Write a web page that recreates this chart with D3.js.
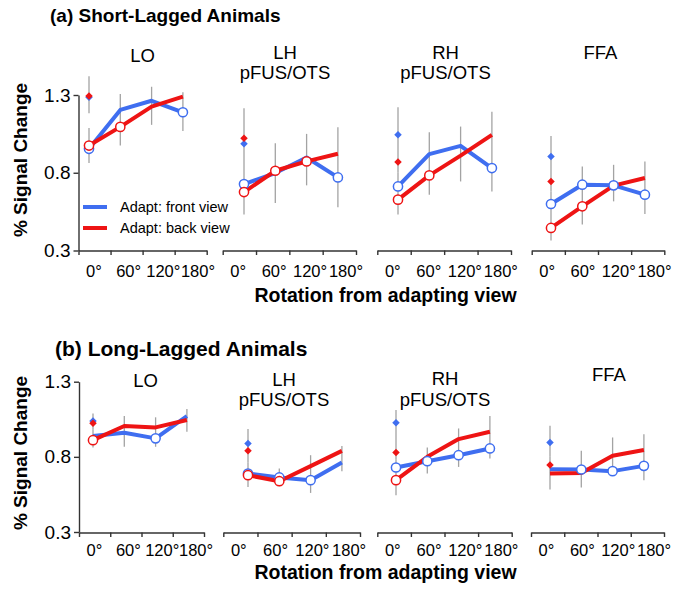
<!DOCTYPE html>
<html><head><meta charset="utf-8">
<script src="https://cdn.jsdelivr.net/npm/d3@7"></script>
<style>
body{margin:0;background:#fff}
text{font-family:"Liberation Sans",Arial,Helvetica,sans-serif;fill:#000}
</style>
</head><body>
<svg id="c" width="678" height="592"></svg>
<script>
// ---------- DATA ----------
const regions = [["LO"], ["LH", "pFUS/OTS"], ["RH", "pFUS/OTS"], ["FFA"]];
const angles = [0, 60, 120, 180];
const angleLabels = ["0°", "60°", "120°", "180°"];
const yTicks = [0.3, 0.8, 1.3];
const seriesNames = ["Adapt: front view", "Adapt: back view"];

// (a) Short-lagged: per region, values at 0°,60°,120°,180°
const shortFront = [[0.954, 1.204, 1.263, 1.189], [0.727, 0.798, 0.898, 0.770], [0.712, 0.920, 0.973, 0.830], [0.599, 0.723, 0.719, 0.659]];
const shortBack  = [[0.975, 1.095, 1.225, 1.289], [0.676, 0.813, 0.873, 0.922], [0.627, 0.783, 0.910, 1.044], [0.445, 0.584, 0.717, 0.766]];
const shortFrontSame = [1.285, 0.986, 1.044, 0.905];
const shortBackSame  = [1.294, 1.022, 0.869, 0.744];
const shortErr = [
  [[0.862, 1.087], [0.975, 1.306], [1.108, 1.353], [1.069, 1.317]],
  [[0.531, 0.850], [0.606, 0.990], [0.719, 1.050], [0.578, 1.093]],
  [[0.531, 0.800], [0.659, 1.061], [0.744, 1.097], [0.680, 1.193]],
  [[0.364, 0.680], [0.467, 0.840], [0.616, 0.851], [0.535, 0.872]]];
const shortSameErr = [[1.183, 1.420], [0.850, 1.215], [0.800, 1.221], [0.680, 1.037]];
const shortFrontOpen = [[1, 0, 0, 1], [1, 0, 0, 1], [1, 0, 0, 1], [1, 1, 1, 1]];
const shortBackOpen  = [[1, 1, 0, 0], [1, 1, 1, 0], [1, 1, 0, 0], [1, 1, 0, 0]];

// (b) Long-lagged
const longFront = [[0.938, 0.960, 0.923, 1.071], [0.689, 0.663, 0.645, 0.763], [0.729, 0.771, 0.811, 0.856], [0.718, 0.716, 0.705, 0.740]];
const longBack  = [[0.911, 1.005, 0.996, 1.045], [0.678, 0.638, 0.738, 0.840], [0.645, 0.800, 0.918, 0.967], [0.689, 0.693, 0.807, 0.845]];
const longFrontSame = [1.038, 0.889, 1.027, 0.896];
const longBackSame  = [1.023, 0.840, 0.829, 0.745];
const longErr = [
  [[0.863, 0.980], [0.867, 1.071], [0.867, 1.063], [0.967, 1.118]],
  [[0.600, 0.760], [0.605, 0.723], [0.560, 0.811], [0.705, 0.873]],
  [[0.545, 0.780], [0.689, 0.863], [0.733, 0.989], [0.789, 1.071]],
  [[0.583, 0.800], [0.596, 0.840], [0.678, 0.929], [0.645, 0.951]]];
const longSameErr = [[0.980, 1.089], [0.760, 0.985], [0.780, 1.111], [0.800, 1.007]];
const longFrontOpen = [[0, 0, 1, 0], [1, 1, 1, 0], [1, 1, 1, 1], [0, 1, 1, 1]];
const longBackOpen  = [[1, 0, 0, 0], [1, 1, 0, 0], [1, 0, 0, 0], [0, 0, 0, 0]];

// ---------- LAYOUT ----------
const BLUE = "#3f6ef0", RED = "#ee1414", GRAY = "#a3a3a3", AXIS = "#333";
const rows = [
  { title: "(a) Short-Lagged Animals", tx: 50, ty: 22, tsize: 19,
    yRange: [250.5, 95], axisY: 250.5, labelY: 26, xTitleY: 301.5, yTitleY: 160,
    titleY: [62, 58.5, 58.5, 58.5], titleX: [142.5, 285, 445.5, 600.5],
    axes: [[78.5, 206.7], [222.7, 356], [377.3, 511], [531.7, 664.3]],
    starts: [89, 244, 398, 551],
    front: shortFront, back: shortBack, frontSame: shortFrontSame, backSame: shortBackSame,
    err: shortErr, sameErr: shortSameErr, frontOpen: shortFrontOpen, backOpen: shortBackOpen, legend: true },
  { title: "(b) Long-Lagged Animals", tx: 55, ty: 356, tsize: 21,
    yRange: [532, 381.7], axisY: 532.5, labelY: 23.5, xTitleY: 578.5, yTitleY: 453,
    titleY: [387, 385.5, 385, 381], titleX: [145.5, 284, 445, 609],
    axes: [[79, 204], [223.3, 360], [377.3, 511.7], [531, 664]],
    starts: [93, 248, 396, 550],
    front: longFront, back: longBack, frontSame: longFrontSame, backSame: longBackSame,
    err: longErr, sameErr: longSameErr, frontOpen: longFrontOpen, backOpen: longBackOpen, legend: false }
];
const STEP = 31.3;

const svg = d3.select("#c");
const diamond = d3.symbol().type(d3.symbolDiamond2 || d3.symbolDiamond).size(36);

rows.forEach(row => {
  svg.append("text").attr("x", row.tx).attr("y", row.ty)
    .style("font-size", row.tsize + "px").style("font-weight", "bold").text(row.title);

  const y = d3.scaleLinear().domain([0.3, 1.3]).range(row.yRange);

  // y axis on first panel
  const ya = svg.append("g").attr("transform", `translate(${row.axes[0][0]},0)`)
    .call(d3.axisLeft(y).tickValues(yTicks).tickFormat(d3.format(".1f")).tickSize(5).tickSizeOuter(0).tickPadding(3));
  ya.select(".domain").attr("stroke", AXIS).attr("stroke-width", 1.4);
  ya.selectAll(".tick line").attr("stroke", AXIS).attr("stroke-width", 1.4);
  ya.selectAll("text").style("font-size", "19px").attr("fill", "#000");

  svg.append("text").attr("transform", `translate(27,${row.yTitleY}) rotate(-90)`)
    .attr("text-anchor", "middle").style("font-size", "19px").style("font-weight", "bold")
    .text("% Signal Change");

  svg.append("text").attr("x", 385.5).attr("y", row.xTitleY).attr("text-anchor", "middle")
    .style("font-size", "19.5px").style("font-weight", "bold").text("Rotation from adapting view");

  regions.forEach((reg, p) => {
    const [a0, a1] = row.axes[p];
    // x axis: tick marks
    const xt = d3.scaleLinear().domain([0, 4]).range([a0, a1]);
    const xa = svg.append("g").attr("transform", `translate(0,${row.axisY})`)
      .call(d3.axisBottom(xt).tickValues([0, 1, 2, 3, 4]).tickFormat("").tickSize(4.5).tickSizeOuter(0));
    xa.select(".domain").attr("stroke", AXIS).attr("stroke-width", 1.4);
    xa.selectAll(".tick line").attr("stroke", AXIS).attr("stroke-width", 1.4);
    // x axis: labels, slightly spread beyond the bins as in the reference
    const bw = (a1 - a0) / 4;
    const xb = d3.scalePoint().domain(angleLabels).range([a0 + 15, a0 + 15 + 3 * (bw + 2.6)]);
    const xl = svg.append("g").attr("transform", `translate(0,${row.axisY})`)
      .call(d3.axisBottom(xb).tickSize(0));
    xl.select(".domain").remove();
    xl.selectAll("text").attr("y", row.labelY).attr("dy", null).style("font-size", "16.5px").attr("fill", "#000");

    // panel title
    reg.forEach((line, k) => {
      svg.append("text").attr("x", row.titleX[p]).attr("y", row.titleY[p] + k * 20.8)
        .attr("text-anchor", "middle").style("font-size", "18.5px").text(line);
    });

    const x = d3.scaleLinear().domain([0, 180]).range([row.starts[p], row.starts[p] + 3 * STEP]);
    const g = svg.append("g");

    // error bars
    const eb = row.err[p].map((e, i) => ({ x: angles[i], lo: e[0], hi: e[1] }));
    eb.push({ x: 0, lo: row.sameErr[p][0], hi: row.sameErr[p][1] });
    g.selectAll("line.err").data(eb).enter().append("line")
      .attr("x1", d => x(d.x)).attr("x2", d => x(d.x))
      .attr("y1", d => y(d.lo)).attr("y2", d => y(d.hi))
      .attr("stroke", GRAY).attr("stroke-width", 1.3);

    const line = d3.line().x((d, i) => x(angles[i])).y(d => y(d));
    const series = [
      { vals: row.front[p], open: row.frontOpen[p], same: row.frontSame[p], color: BLUE },
      { vals: row.back[p], open: row.backOpen[p], same: row.backSame[p], color: RED }
    ];
    series.forEach(s => {
      g.append("path").attr("d", line(s.vals)).attr("fill", "none")
        .attr("stroke", s.color).attr("stroke-width", 4).attr("stroke-linejoin", "round");
    });
    series.forEach(s => {
      g.append("path").attr("d", diamond())
        .attr("transform", `translate(${x(0)},${y(s.same)})`).attr("fill", s.color);
    });
    series.forEach(s => {
      const pts = s.vals.map((v, i) => ({ a: angles[i], v, o: s.open[i] })).filter(d => d.o);
      g.selectAll(null).data(pts).enter().append("circle")
        .attr("cx", d => x(d.a)).attr("cy", d => y(d.v)).attr("r", 4.6)
        .attr("fill", "#fff").attr("stroke", s.color).attr("stroke-width", 1.5);
    });
  });

  if (row.legend) {
    const lg = svg.append("g");
    [BLUE, RED].forEach((c, i) => {
      lg.append("line").attr("x1", 83).attr("x2", 107).attr("y1", 207 + i * 21).attr("y2", 207 + i * 21)
        .attr("stroke", c).attr("stroke-width", 4);
      lg.append("text").attr("x", 120).attr("y", 212 + i * 21).style("font-size", "14.5px").text(seriesNames[i]);
    });
  }
});
</script>
</body></html>
